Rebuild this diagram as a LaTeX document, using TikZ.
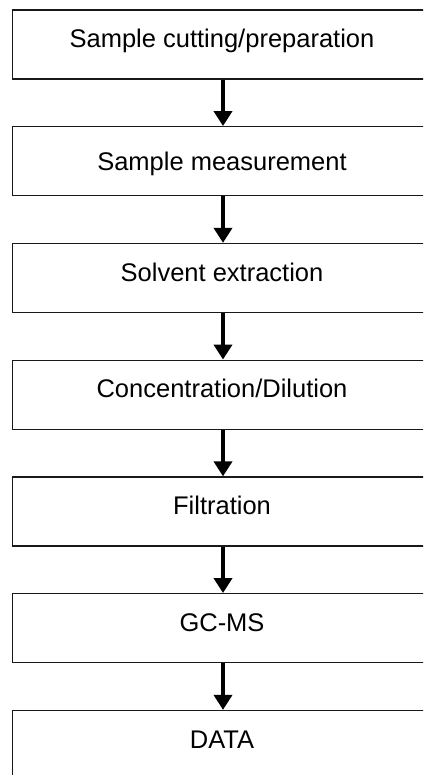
\documentclass[tikz,border=0pt]{standalone}
\usepackage{fontspec}
\setmainfont{Liberation Sans}
\usetikzlibrary{arrows.meta}
\begin{document}
\begin{tikzpicture}[x=1pt,y=-1pt,
  stepbox/.style={draw=black!90,line width=1.3pt,rectangle,minimum width=419pt,minimum height=69pt,
    inner sep=0pt,font=\fontsize{25.5}{28}\selectfont,text height=18.3pt,text depth=12pt},
  flowarrow/.style={line width=4pt,-{Triangle[width=18pt,length=15pt]}}]
\useasboundingbox (0,0) rectangle (423,775);
\clip (0,0) rectangle (423,775);
\node[stepbox] (b1) at (222,44.5) {Sample cutting/preparation};
\node[stepbox,text depth=0pt] (b2) at (222,161.2) {Sample measurement};
\node[stepbox] (b3) at (222,278) {Solvent extraction};
\node[stepbox] (b4) at (222,394.7) {Concentration/Dilution};
\node[stepbox] (b5) at (222,511.5) {Filtration};
\node[stepbox] (b6) at (222,628.2) {GC-MS};
\node[stepbox] (b7) at (222,745) {DATA};
\foreach \a/\b in {b1/b2,b2/b3,b3/b4,b4/b5,b5/b6,b6/b7}
  \draw[flowarrow] ([xshift=1pt]\a.south) -- ([xshift=1pt]\b.north);
\end{tikzpicture}
\end{document}
